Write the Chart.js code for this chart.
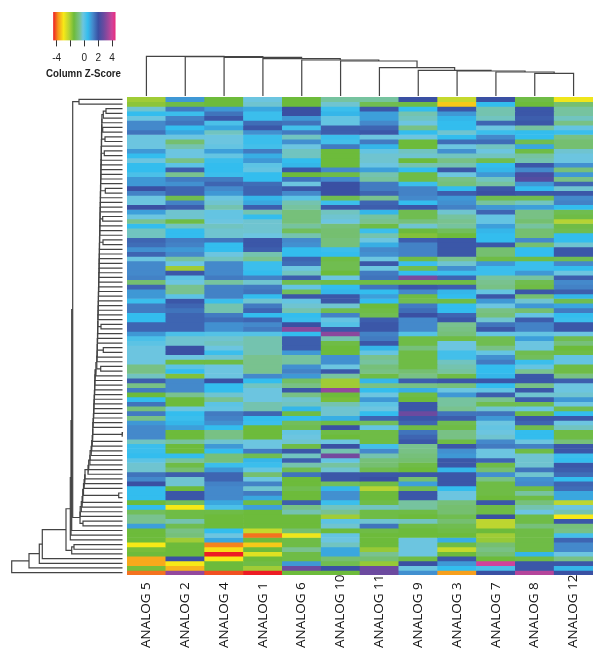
<!DOCTYPE html>
<html>
<head>
<meta charset="utf-8">
<title>Column Z-Score heatmap</title>
<script src="https://cdn.jsdelivr.net/npm/chart.js@4"></script>
<style>
  html, body { margin: 0; padding: 0; background: #fff; overflow: hidden; }
  canvas { position: absolute; }
</style>
</head>
<body>
<canvas id="key" style="left:46px;top:8px" width="75" height="74"></canvas>
<canvas id="topTree" style="left:127px;top:50px" width="466" height="47"></canvas>
<canvas id="leftTree" style="left:0;top:97px" width="127" height="478"></canvas>
<canvas id="heat" style="left:127px;top:97px" width="466" height="478"></canvas>
<canvas id="names" style="left:127px;top:572px" width="466" height="84"></canvas>
<script>
const columnNames = ['ANALOG 5', 'ANALOG 2', 'ANALOG 4', 'ANALOG 1', 'ANALOG 6', 'ANALOG 10', 'ANALOG 11', 'ANALOG 9', 'ANALOG 3', 'ANALOG 7', 'ANALOG 8', 'ANALOG 12'];

// z-scores per column, top row first
const analog5 = [-2,-1.8,-.3,.5,-.2,1.2,1.2,1.5,-.2,-.2,
  -.2,1,.5,-.2,.5,.5,.2,1,1,2,
  1.3,-.2,-.2,2,.9,-.2,-.7,.5,-.4,-.4,
  1.7,1.6,1.1,1.7,-.2,1.2,1.2,1.2,1.3,-1,
  1.7,1,1,.4,1.4,1.4,.5,.5,1.7,1.7,
  1,.2,0,-.2,-.2,-.2,-.2,-.8,-.8,-.4,
  1.8,-.8,1.4,-1.5,.5,1.5,-.9,1.4,-.8,1,
  1.2,1.2,1.2,-.4,.4,.4,.5,0,-.3,-.3,
  1.5,1.2,2,.5,.5,.5,-1.5,.5,-1.2,-.7,
  -.7,.9,-1.5,-1.5,-1.5,-3,-1.6,-1.5,-3.6,-3.6,
  -1.6,-4];
const analog2 = [1,-1.4,1.4,.4,1.3,1.5,.5,.8,-.2,-1,
  -.5,-.2,-.2,-.8,0,1.8,-.7,1.4,1.1,1.7,
  1.7,-1.3,1.3,1.8,-.3,-.3,-1.4,-.4,.5,.5,
  1.4,1.3,1,1.2,-.6,-.2,-2,1.9,0,-.2,
  -.7,-.7,0,1.9,1.7,1.5,1.7,1.7,1.7,1.7,
  .2,-.3,-.3,2,2,-.2,-1.4,0,.5,-1.7,
  1.2,1.2,1.2,-.7,-1.5,-1.5,-.2,.5,.4,.6,
  .9,-1.5,-1.5,-.6,-1.5,-1.5,.5,-.6,-1.4,-1,
  1.8,-.3,-.3,-1.5,1.9,1.9,-1.2,-3,-1.4,-1.4,
  -.5,-1.3,-.8,-.9,-2,-1.5,-1.5,-1.5,2,-3,
  -3.5,3.3];
const analog4 = [-1.5,-1.5,1,1.5,1.9,.2,.8,-.4,-.2,-.2,
  -.1,.9,-.1,.4,.5,.5,.4,1.4,1.7,1.2,
  1,-.2,-.3,-.5,-.1,-.1,-.2,-.4,-.3,-.3,
  1.5,.5,.5,-.2,-.4,1.2,1.2,1.2,1.4,-.6,
  1.3,1.3,1.3,.4,-.5,-.5,1.4,1.6,1.1,1.1,
  .1,-.3,-.4,-.2,.4,-.3,-1.4,-.2,-.2,-.2,
  2,.5,.5,-.3,-.7,0,-.1,1.4,1.3,1.1,
  .5,-.8,-.8,-.3,1,.5,-.9,-.9,.4,1,
  1.7,1.7,1.3,1.2,1.2,1.2,.8,.2,-1.4,-1.5,
  -1.5,-1.5,.5,-.2,.8,-3.9,-3.1,-4.5,-3,-1.5,
  -1.5,-4.2];
const analog1 = [-.2,-.3,.8,.4,.4,1.6,1.9,1.1,.4,.4,
  .3,1.4,.7,1,0,-.1,.5,.5,1.6,1.7,
  1.7,.6,.8,1.8,-.5,.5,-.3,-.3,-.3,-.2,
  1.9,1.9,1.8,-.5,-.7,.4,.4,.5,1.3,-.3,
  1.4,1.5,.5,-.3,1.4,1.7,.5,1.7,1.2,1.4,
  .1,-.5,-.5,-.5,-.5,-.7,-.7,-.7,-.7,1.2,
  .5,-.4,-.2,-.2,-.2,-.5,-.5,1.7,.5,.4,
  -1.5,-1.5,-1.5,-.2,-.2,1.4,-1.3,.6,.4,-.1,
  -1,-.2,1.3,-.3,1.4,.8,-1.4,.9,-1.5,-1.5,
  -1.5,-1.5,-2.4,-4,-1.5,-3.3,-1.5,-2.7,-1.5,-1.4,
  -2,-4.5];
const analog6 = [-1.5,-1.5,2,2,1,1.5,.3,1.4,-.4,1.1,
  -.2,-.4,-.4,.5,.6,1.9,-1.5,1.5,-.2,1.9,
  1.2,0,-.5,-.6,-.9,-.9,-.9,-.6,-1.2,-.5,
  1.2,1.1,.5,.5,1.7,1.6,-.2,-.4,1.8,-1.3,
  -.1,-1.2,1.9,-.1,-.3,-.5,.5,.4,2,3.2,
  .5,1.8,1.8,1.8,1,-.6,-.6,1.1,1.3,1,
  -1.1,-.8,1.9,-.8,-.3,-.4,.6,-1.4,.5,-1.2,
  -1.3,-.1,-.2,-.3,-1.4,1.9,-.4,1.8,-.5,-1.3,
  1.5,-1.5,-1.5,-1.3,-1.5,-1.5,1.8,-.8,-.5,-1.5,
  -1.5,-1.5,-1,-2.9,-1.4,-1.4,-.7,-1.4,-1.4,1,
  2.8,-1.5];
const analog10 = [-.6,-.3,.4,.6,-.1,-.1,1.8,1.8,.4,.3,
  1.4,-1.5,-1.5,-1.5,-1.5,1.2,-1.4,1.2,2,2,
  2,-1.3,.4,1.9,-.4,-.3,-.2,-.9,-1,-1,
  -.9,-.9,.4,.5,-1.4,-1.3,-1.3,-1.5,-.2,-1.4,
  .5,.6,1.9,1.9,-.3,-1.3,1.3,-.1,.1,1.9,
  3.2,-.5,-1.4,-1.5,-1.5,1.1,1.1,-.2,1.9,-.6,
  -2,-2,3.3,-1.5,-1.6,-.5,-.3,-.3,.7,-1.4,
  2,-1.4,-1.5,-.2,2,-.5,2.9,-.1,-.6,-.3,
  1.9,1.9,-1.2,.6,1.1,1.1,.4,-.4,-.7,-2,
  0,-.3,-1.5,-.1,-.2,-.4,.8,.8,-1,-1.3,
  2,-1.5];
const analog11 = [-.6,-1.3,1.9,.9,.9,1.2,1.7,1.9,-.2,1.4,
  .6,-.1,-.3,-.3,-.2,.9,-.5,-.6,1.4,1.4,
  1.7,-.7,1.7,1.8,.6,-.6,-.7,-1.4,.4,-.5,
  -.2,.7,1.2,1.1,-.2,1.9,-.2,1.4,1.5,-1.4,
  1.5,.5,.9,.5,-1.5,-1.4,-1.3,1.8,1.9,1.9,
  1.3,1.4,1.9,.6,-.1,-.7,-.6,-.9,-.8,-1.4,
  .6,-.8,.5,-.2,1,0,-.2,.5,1.7,-1.2,
  -.1,-1.4,-1.4,-1.4,.3,1.2,-.5,-.9,-1,-1.3,
  1.9,2,-1.4,-2.2,-1.5,-1.5,-1.4,-.4,-1.4,-1.4,
  -.3,1.5,-1.4,-1.5,-1.5,-1.5,-1.9,-.7,-1,-1.9,
  2.8,2.8];
const analog9 = [2,-1.4,.5,-.5,-.4,-.2,-.8,.5,-.2,-1.5,
  -1.5,-.4,-.3,-1.5,-.5,.5,-1.4,-1.4,.4,1.3,
  1.3,1.2,.5,1.9,-1.3,-1.3,-.9,-.3,-1.5,-1.7,
  1.8,1.3,1.3,1.3,-1.4,.4,-1.3,.5,3,-1.4,
  1.9,1.2,-1.4,-1.3,1.4,1.6,2,1.2,1.2,1.2,
  .1,-1.4,-1.4,-.9,-1.4,-1.4,-1.4,-1.4,-1,-.8,
  1.8,-.8,.7,-1.4,-1.5,1.9,1.9,2.8,1.9,1.7,
  -1.4,1.5,1.7,1.9,-.7,-.8,-.9,-1,-1.4,-1.5,
  1.9,-1,.9,-1.3,1.9,1.9,-.6,-.6,-1.4,-1.5,
  -.4,-1.4,-1.5,-1.5,-.2,-.2,-.2,-.2,-1.4,2,
  -.2,1.1];
const analog3 = [-2.4,-3.3,1.9,1,.6,.5,.5,-.3,.5,1.6,
  -.2,1.1,-.4,-.8,-.5,1.9,-.2,-.8,-.9,.5,
  1.8,1,1.1,1.3,-.3,-.6,-.7,-.6,-1.2,-1.5,
  1.9,1.9,1.9,1.9,-.7,-.3,1.1,.4,1.7,-1.4,
  1.8,.6,.5,-1.4,.5,.5,1.7,1.9,-.7,-.8,
  -.9,-1.4,-.2,-.2,.3,.3,-.4,-.5,-.6,-1.4,
  1.9,-.9,-.2,1,-.6,-.6,-.7,1.5,1.8,-1.3,
  -1.4,-.8,-.8,-1.4,1.9,1.1,1,1.9,1.9,.6,
  1.9,1.9,1.9,.5,-.2,-.2,-.9,-1,-1,-1.3,
  -1,-1.3,-1.4,-1.5,.7,-1.4,-2.4,-1.5,1.9,1,
  .5,-3.7];
const analog7 = [2,.5,-.5,-.5,-.4,1.7,-.2,.4,1.2,1.6,
  -.4,-.2,-.4,-1.3,.5,.6,1,-.4,-.6,1.9,
  2,-1.3,-.6,1,1.7,-.1,-.1,.9,.6,.5,
  .5,1.9,-1,-1,-1.4,1,.4,.4,-.6,-.7,
  -.8,-.1,1.9,1,-.2,-.8,-.9,-.3,1.5,1.9,
  -.1,-1.3,-1.3,-.8,-.1,1.1,1.4,.5,.5,.6,
  1.9,.5,-.1,1.8,-.7,-1.3,-.3,1.5,1,-.2,
  -.1,-.2,-.3,1.2,1.4,-.2,-.2,1.7,-1.4,-1,
  1.1,-.8,-1.4,-1.4,-1.4,-1.5,1.9,-1.4,-1.4,2,
  -2.3,-2.3,-1.5,-2,-1.9,-1,-.8,-1,-1.5,4,
  .2,2];
const analog8 = [-1.4,-1.5,1.9,1.9,1.8,1.9,-.6,.5,.5,-1.3,
  .8,-1.4,-.6,-.5,1.9,1.2,2.2,2.4,1,.5,
  1.9,-1.3,-.4,.9,-.8,-.8,-1,-.6,-1,-1,
  1.2,-1,.5,.5,-1.4,.4,.4,1,-.6,-1.3,
  -1.4,1.9,-1,-.3,1,-1,-.1,1.8,1.3,1.3,
  -.1,.9,-.2,-.2,-1.3,-1.2,.4,-.1,-.7,1.9,
  1.9,-.8,1.9,-.3,1.8,-1.3,-.2,-1.4,1.9,1.7,
  -1.3,.5,.5,-.2,1.3,-1.4,-.3,-.3,-.3,1.5,
  -.3,1.1,1.2,-1.4,-.6,-1.4,-.9,-.5,-.2,-1.4,
  -1.4,-.9,-1.4,-1.4,-1.4,-1.4,-1.4,.6,-1.4,1.9,
  1.9,3.7];
const analog12 = [-2.9,-1,-.6,-.6,-.4,-.8,-.1,.4,-.8,-1,
  -1,-.3,-.2,-.2,1.1,-.9,1,-.8,1.7,-.3,
  1.9,1.2,1.3,.5,-1.3,-1.4,-2.2,-1.4,-1.3,.5,
  .5,-.3,1.9,1.9,-1.3,1.2,.5,-.2,1.8,1.2,
  1.3,1.8,.6,-1.3,.8,1.4,.5,.4,1.9,1.9,
  -.2,-1.3,-.9,-1.5,-1.4,-.1,-.1,-1.4,-1.4,-.8,
  1.8,-.2,-.2,-.3,1,-.2,-1.3,.5,1.9,-.2,
  -.4,-1.4,-1.4,-.9,1.9,1.9,.4,.5,1.9,1.8,
  1.6,.5,1.7,1.6,.8,.8,-2.3,-.2,-.5,-3,
  1.9,-.9,-.8,.3,1.7,1.2,1.2,-.2,-.8,1.9,
  .6,2];
const columns = [analog5, analog2, analog4, analog1, analog6, analog10, analog11, analog9, analog3, analog7, analog8, analog12];

// colour key: z value -> colour
const keyZ = [-4.5, -3.8, -3, -2.2, -1.5, -0.7, -0.2, 0.5, 1.2, 2, 2.8, 3.5, 4, 4.5];
const keyColors = ['#ed1c24', '#f7941d', '#f7e917', '#b5d334', '#6dbb3b', '#79c28f', '#6cc5e0', '#33bdee', '#4489cb', '#3a50a3', '#6c4a9f', '#a3479b', '#cf439b', '#ec2a7a'];
const keyTicks = [-4, -2, 0, 2, 4];
const keyTickLabels = ['-4', '', '0', '2', '4'];

// column tree: merge heights from the lowest join up, rightmost columns first
const topMergeHeights = [23.7, 25, 26, 26.7, 29.3, 36, 37, 38.3, 39.7, 40.3, 40.7];

// row tree: distances from the leaf ends
const leftPairs = {2: 16.5, 6: 19.8, 8: 17.5, 11: 18.2, 19: 17.2, 25: 19.8, 30: 19.5, 48: 21.5, 53: 19.2, 57: 21.8, 71: 0.5, 84: 3.8};
const leftTrunk = [20.6, 20.7, 20.7, 20.9, 20.9, 21, 21.1, 21.1, 21.3, 21.3, 21.5, 21.6, 21.6, 21.8, 21.9, 21.9,
  22, 22.1, 22.1, 22.3, 22.4, 22.4, 22.5, 22.7, 22.7, 22.9, 22.9, 23, 23.1, 23.1, 23.3, 23.4, 23.4, 23.5, 23.7, 23.8,
  23.8, 24, 24.1, 24.1, 24.3, 24.4, 24.5, 24.6, 24.6, 24.8, 24.9, 25, 25.2, 25.2, 25.3, 25.5, 25.7, 25.7, 26.6, 27.5,
  27.6, 27.8, 27.9, 28.1, 28.3, 28.5, 28.7, 28.9, 29.1, 29.4, 29.7, 29.7, 29.9, 30.3, 30.8, 31.4, 32.4, 32.6, 33.8, 34.5,
  37.5, 37.8, 38.4, 39, 39, 39.8, 40.4, 41.2, 42.3];
const leftUpper = [43.5, 49.8, 50.8, 51.5, 52.2];   // rows 0-1 join, then the trunk and rows 92-94
const leftLower = [48.5, 50.8, 56.5, 80.2, 83.2, 93.5, 110.8];

const lineColor = '#444';
const rowCount = analog5.length;

function colorFor(z) {
  let i = 0;
  while (i < keyZ.length - 2 && z > keyZ[i + 1]) i++;
  const t = Math.min(1, Math.max(0, (z - keyZ[i]) / (keyZ[i + 1] - keyZ[i])));
  const a = keyColors[i], b = keyColors[i + 1];
  const mix = p => {
    const u = parseInt(a.substr(p, 2), 16), v = parseInt(b.substr(p, 2), 16);
    return Math.round(u + (v - u) * t);
  };
  return `rgb(${mix(1)},${mix(3)},${mix(5)})`;
}

function hidden() {
  return { display: false };
}

function drawHeatmap() {
  const datasets = [];
  for (let r = 0; r < rowCount; r++) {
    datasets.push({
      data: columnNames.map(() => [r, r + 1]),
      backgroundColor: columns.map(col => colorFor(col[r])),
      barPercentage: 1,
      categoryPercentage: 1
    });
  }
  new Chart(document.getElementById('heat'), {
    type: 'bar',
    data: { labels: columnNames, datasets },
    options: {
      responsive: false,
      animation: false,
      grouped: false,
      plugins: { legend: hidden(), tooltip: { enabled: false } },
      scales: {
        x: hidden(),
        y: { display: false, min: 0, max: rowCount, reverse: true }
      }
    }
  });
}

// a join of two branches becomes one stepped line
function joinBranches(links, h, a, b) {
  links.push([
    { h: a.h, pos: a.pos }, { h, pos: a.pos }, { h, pos: b.pos }, { h: b.h, pos: b.pos }
  ]);
  return { h, pos: (a.pos + b.pos) / 2 };
}

function treeChart(id, links, xKey, yKey, scales) {
  new Chart(document.getElementById(id), {
    type: 'scatter',
    data: {
      datasets: links.map(link => ({
        data: link.map(p => ({ x: p[xKey], y: p[yKey] })),
        showLine: true,
        borderColor: lineColor,
        borderWidth: 1.2,
        pointRadius: 0,
        clip: false
      }))
    },
    options: {
      responsive: false,
      animation: false,
      plugins: { legend: hidden(), tooltip: { enabled: false } },
      scales
    }
  });
}

function drawTopTree() {
  const links = [];
  const leafAt = i => ({ h: 1, pos: i + 0.5 });
  let node = leafAt(11);
  topMergeHeights.forEach((h, n) => {
    node = joinBranches(links, h, leafAt(10 - n), node);
  });
  treeChart('topTree', links, 'pos', 'h', {
    x: { display: false, type: 'linear', min: 0, max: 12 },
    y: { display: false, min: 0, max: 47 }
  });
}

function drawLeftTree() {
  const links = [];
  const leaf = r => ({ h: 0, pos: r + 0.5 });

  // rows 2-89 hang off one long trunk that steps left on the way down
  let ladder = joinBranches(links, 19.2, joinBranches(links, leftPairs[2], leaf(2), leaf(3)), leaf(4));
  for (let r = 5; r <= 89; r++) {
    let branch = leaf(r);
    const paired = leftPairs[r] !== undefined;
    if (paired) branch = joinBranches(links, leftPairs[r], leaf(r), leaf(r + 1));
    ladder = joinBranches(links, leftTrunk[r - 5], ladder, branch);
    if (paired) r++;
  }
  ladder = joinBranches(links, 42.5, ladder, joinBranches(links, 39.5, leaf(90), leaf(91)));

  const topPair = joinBranches(links, leftUpper[0], leaf(0), leaf(1));
  let upper = joinBranches(links, leftUpper[1], topPair, ladder);
  [92, 93, 94].forEach((r, i) => {
    upper = joinBranches(links, leftUpper[i + 2], upper, leaf(r));
  });

  const lowPair = joinBranches(links, leftLower[0], leaf(95), leaf(96));
  const low = joinBranches(links, leftLower[1], lowPair, leaf(97));
  let node = joinBranches(links, leftLower[2], upper, low);
  [98, 99, 100, 101].forEach((r, i) => {
    node = joinBranches(links, leftLower[i + 3], node, leaf(r));
  });

  treeChart('leftTree', links, 'h', 'pos', {
    x: { display: false, type: 'linear', min: -4.5, max: 122.5, reverse: true },
    y: { display: false, min: 0, max: rowCount, reverse: true }
  });
}

function drawNames() {
  // axis on top of a thin plot: rotated names then start at a common baseline
  new Chart(document.getElementById('names'), {
    type: 'bar',
    data: { labels: columnNames, datasets: [{ data: [] }] },
    options: {
      responsive: false,
      animation: false,
      plugins: { legend: hidden(), tooltip: { enabled: false } },
      scales: {
        x: {
          position: 'top',
          grid: { display: false, drawTicks: false },
          border: { display: false },
          afterFit: scale => { scale.height = 76; },
          ticks: {
            autoSkip: false,
            minRotation: 90,
            maxRotation: 90,
            padding: 0,
            labelOffset: 16,
            color: '#111',
            font: { family: '"Open Sans"', size: 13.5 }
          }
        },
        y: hidden()
      }
    }
  });
}

// blank side axes keep the bar narrower than the title below it
function spacerAxis(position, width) {
  return {
    position,
    grid: { display: false },
    border: { display: false },
    ticks: { display: false },
    afterFit: scale => { scale.width = width; }
  };
}

function drawKey() {
  new Chart(document.getElementById('key'), {
    type: 'bar',
    data: {
      labels: [''],
      datasets: [{
        data: [[keyZ[0], keyZ[keyZ.length - 1]]],
        barPercentage: 1,
        categoryPercentage: 1,
        backgroundColor: ctx => {
          const area = ctx.chart.chartArea;
          if (!area) return keyColors[0];
          const g = ctx.chart.ctx.createLinearGradient(area.left, 0, area.right, 0);
          keyZ.forEach((z, i) => g.addColorStop((z - keyZ[0]) / (keyZ[keyZ.length - 1] - keyZ[0]), keyColors[i]));
          return g;
        }
      }]
    },
    options: {
      indexAxis: 'y',
      responsive: false,
      animation: false,
      layout: { padding: { top: 4 } },
      plugins: {
        legend: hidden(),
        tooltip: { enabled: false },
        title: {
          display: true,
          position: 'bottom',
          text: 'Column Z-Score',
          color: '#222',
          padding: { top: 3, bottom: 2 },
          font: { family: '"Liberation Sans"', size: 10.5, weight: 'bold' }
        }
      },
      scales: {
        y: spacerAxis('left', 5),
        right: { type: 'linear', ...spacerAxis('right', 4) },
        x: {
          type: 'linear',
          min: keyZ[0],
          max: keyZ[keyZ.length - 1],
          afterBuildTicks: scale => { scale.ticks = keyTicks.map(value => ({ value })); },
          afterFit: scale => { scale.height = 24; },
          border: { display: false },
          grid: { drawOnChartArea: false, tickLength: 6, tickColor: '#333', tickWidth: 1 },
          ticks: {
            autoSkip: false,
            maxRotation: 0,
            padding: 6,
            color: '#222',
            font: { family: '"Liberation Sans"', size: 10 },
            callback: value => keyTickLabels[keyTicks.indexOf(value)]
          }
        }
      }
    }
  });
}

drawKey();
drawTopTree();
drawLeftTree();
drawHeatmap();
drawNames();
</script>
</body>
</html>
